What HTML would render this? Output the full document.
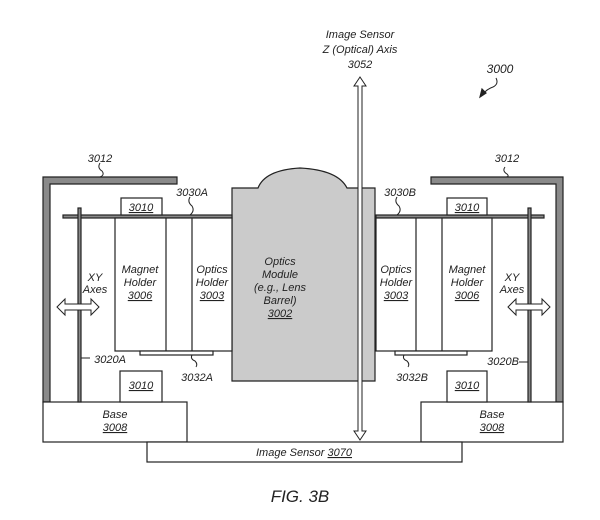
<!DOCTYPE html>
<html><head><style>
html,body{margin:0;padding:0;background:#fff;}
svg{display:block;}
text{font-family:"Liberation Sans",sans-serif;font-style:italic;fill:#222;}
</style></head><body>
<svg width="600" height="520" viewBox="0 0 600 520" xmlns="http://www.w3.org/2000/svg">
<g stroke="#222" stroke-width="1.2">
<!-- Optics module -->
<path d="M232,188 L258,188 Q265,170 300,168 Q338,170 347,188 L375,188 L375,381 L232,381 Z" fill="#cbcbcb"/>
<!-- brackets 3012 -->
<path d="M43,177 L177,177 L177,184 L50,184 L50,402 L43,402 Z" fill="#8a8a8a"/>
<path d="M563,177 L431,177 L431,184 L556,184 L556,402 L563,402 Z" fill="#8a8a8a"/>
<!-- bases -->
<rect x="43" y="402" width="144" height="40" fill="#fff"/>
<rect x="421" y="402" width="142" height="40" fill="#fff"/>
<rect x="147" y="442" width="315" height="20" fill="#fff"/>
<!-- left assembly -->
<rect x="63" y="215" width="169" height="3" fill="#8a8a8a"/>
<rect x="121" y="198" width="41" height="17" fill="#fff"/>
<rect x="115" y="218" width="117" height="133" fill="#fff"/>
<line x1="166" y1="218" x2="166" y2="351"/>
<line x1="192" y1="218" x2="192" y2="351"/>
<rect x="140" y="351" width="73" height="4" fill="#fff"/>
<rect x="78" y="208" width="3" height="194" fill="#8a8a8a"/>
<rect x="120" y="371" width="42" height="31" fill="#fff"/>
<!-- right assembly -->
<rect x="376" y="215" width="168" height="3" fill="#8a8a8a"/>
<rect x="447" y="198" width="40" height="17" fill="#fff"/>
<rect x="376" y="218" width="116" height="133" fill="#fff"/>
<line x1="416" y1="218" x2="416" y2="351"/>
<line x1="442" y1="218" x2="442" y2="351"/>
<rect x="395" y="351" width="72" height="4" fill="#fff"/>
<rect x="528" y="208" width="3" height="194" fill="#8a8a8a"/>
<rect x="447" y="371" width="40" height="31" fill="#fff"/>
<!-- axis -->
<path d="M358,86 L354,86 L360,77 L366,86 L362,86 L362,431 L366,431 L360,440 L354,431 L358,431 Z" fill="#fff" stroke-width="1"/>
<!-- XY arrows -->
<path d="M57,307 L65,299 L65,304 L91,304 L91,299 L99,307 L91,315 L91,310 L65,310 L65,315 Z" fill="#fff" stroke-width="1"/>
<path d="M508,307 L516,299 L516,304 L542,304 L542,299 L550,307 L542,315 L542,310 L516,310 L516,315 Z" fill="#fff" stroke-width="1"/>
<!-- leaders -->
<g fill="none" stroke-width="1">
<path d="M100,163 q-3,5 2,8 q3,4 -2,6"/>
<path d="M505,167 q-3,4 2,7 q3,3 -2,3"/>
<path d="M190,197 q-3,5 2,9 q3,5 -2,9"/>
<path d="M397,197 q-3,5 2,9 q3,5 -2,9"/>
<path d="M192,355 q-2,4 3,6 q3,3 1,6"/>
<path d="M404,355 q-2,4 3,6 q3,3 1,6"/>
<path d="M81,358 L90,358"/>
<path d="M519,362 L528,362"/>
<path d="M496,78 q3,6 -3,9 q-6,2 -10,7"/>
</g>
<path d="M480,97 L482,89 L486,93 Z" fill="#222"/>
</g>
<g font-size="11" text-anchor="middle">
<text x="360" y="38">Image Sensor</text>
<text x="360" y="53">Z (Optical) Axis</text>
<text x="360" y="68">3052</text>
<text x="500" y="73" font-size="12">3000</text>
<text x="100" y="162">3012</text>
<text x="507" y="162">3012</text>
<text x="192" y="196">3030A</text>
<text x="400" y="196">3030B</text>
<text x="141" y="211" text-decoration="underline">3010</text>
<text x="467" y="211" text-decoration="underline">3010</text>
<text x="141" y="389" text-decoration="underline">3010</text>
<text x="467" y="389" text-decoration="underline">3010</text>
<text x="140" y="273">Magnet</text><text x="140" y="286">Holder</text><text x="140" y="299" text-decoration="underline">3006</text>
<text x="212" y="273">Optics</text><text x="212" y="286">Holder</text><text x="212" y="299" text-decoration="underline">3003</text>
<text x="396" y="273">Optics</text><text x="396" y="286">Holder</text><text x="396" y="299" text-decoration="underline">3003</text>
<text x="467" y="273">Magnet</text><text x="467" y="286">Holder</text><text x="467" y="299" text-decoration="underline">3006</text>
<text x="95" y="281">XY</text><text x="95" y="293">Axes</text>
<text x="512" y="281">XY</text><text x="512" y="293">Axes</text>
<text x="280" y="265">Optics</text><text x="280" y="278">Module</text><text x="280" y="291">(e.g., Lens</text><text x="280" y="304">Barrel)</text><text x="280" y="317" text-decoration="underline">3002</text>
<text x="110" y="363">3020A</text>
<text x="503" y="365">3020B</text>
<text x="197" y="381">3032A</text>
<text x="412" y="381">3032B</text>
<text x="115" y="418">Base</text><text x="115" y="431" text-decoration="underline">3008</text>
<text x="492" y="418">Base</text><text x="492" y="431" text-decoration="underline">3008</text>
<text x="304" y="456">Image Sensor <tspan text-decoration="underline">3070</tspan></text>
<text x="300" y="502" font-size="17">FIG. 3B</text>
</g>
</svg>
</body></html>
